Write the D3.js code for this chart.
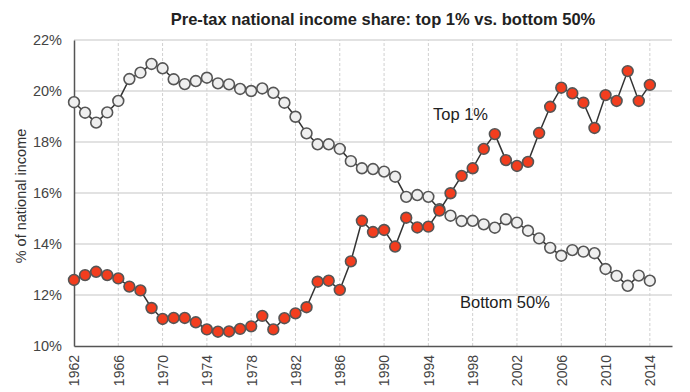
<!DOCTYPE html>
<html>
<head>
<meta charset="utf-8">
<script src="https://cdn.jsdelivr.net/npm/d3@7"></script>
<style>
    body { margin: 0; background: #fff; }
    svg text { font-family: "Liberation Sans", Arial, sans-serif; }
</style>
</head>
<body>
<svg id="chart" width="690" height="392"></svg>
<script>
// Data
const years = d3.range(1962, 2015);
const top1 = [
    12.59, 12.78, 12.91, 12.78, 12.65, 12.33, 12.18, 11.49, 11.06, 11.10,
    11.10, 10.93, 10.65, 10.56, 10.57, 10.67, 10.77, 11.18, 10.65, 11.09,
    11.28, 11.52, 12.52, 12.56, 12.20, 13.32, 14.91, 14.47, 14.55, 13.90,
    15.03, 14.65, 14.68, 15.31, 15.99, 16.67, 16.97, 17.73, 18.31, 17.29,
    17.06, 17.22, 18.35, 19.38, 20.13, 19.91, 19.54, 18.55, 19.84, 19.61,
    20.78, 19.61, 20.24
];
const bottom50 = [
    19.56, 19.15, 18.76, 19.16, 19.61, 20.47, 20.72, 21.06, 20.89, 20.46,
    20.27, 20.39, 20.52, 20.30, 20.26, 20.08, 20.00, 20.10, 19.93, 19.54,
    18.99, 18.34, 17.91, 17.91, 17.73, 17.25, 16.97, 16.94, 16.84, 16.64,
    15.85, 15.92, 15.85, 15.36, 15.11, 14.90, 14.91, 14.77, 14.64, 14.97,
    14.84, 14.52, 14.22, 13.85, 13.54, 13.76, 13.70, 13.64, 13.02, 12.75,
    12.36, 12.76, 12.56
];
const xTicks = d3.range(1962, 2015, 4);
const yTicks = [10, 12, 14, 16, 18, 20, 22];

let svg = d3.select("#chart");

let x = d3.scaleLinear().domain([1962, 2016]).range([74, 672]);
let y = d3.scaleLinear().domain([10, 22]).range([346, 40]);

// Grid lines
svg.append("g")
    .selectAll("line")
    .data(yTicks.slice(1))
    .enter().append("line")
    .attr("x1", x(1962)).attr("x2", x(2016))
    .attr("y1", d => y(d)).attr("y2", d => y(d))
    .attr("stroke", "#d9d9d9")
    .attr("stroke-width", 1.5);

svg.append("g")
    .selectAll("line")
    .data(xTicks.slice(1))
    .enter().append("line")
    .attr("x1", d => x(d)).attr("x2", d => x(d))
    .attr("y1", y(10)).attr("y2", y(22))
    .attr("stroke", "#d0d0d0")
    .attr("stroke-width", 1)
    .attr("stroke-dasharray", "3,2");

// Axes
let xAxis = svg.append("g")
    .attr("transform", "translate(0," + y(10) + ")")
    .call(d3.axisBottom(x).tickValues(xTicks).tickFormat(d3.format("d")).tickSize(0));
xAxis.select(".domain").attr("stroke", "#555").attr("stroke-width", 1.5);
xAxis.selectAll("text")
    .attr("font-size", 14)
    .attr("fill", "#444")
    .attr("transform", "rotate(-90)")
    .attr("text-anchor", "end")
    .attr("x", -9)
    .attr("y", 0)
    .attr("dy", "0.35em");

let yAxis = svg.append("g")
    .attr("transform", "translate(" + x(1962) + ",0)")
    .call(d3.axisLeft(y).tickValues(yTicks).tickFormat(d => d + "%").tickSize(0));
yAxis.select(".domain").attr("stroke", "#555").attr("stroke-width", 1.5);
yAxis.selectAll("text")
    .attr("font-size", 14.5)
    .attr("fill", "#444")
    .attr("x", -12);

// Axis title
svg.append("text")
    .attr("transform", "translate(26," + (y(16) + 3) + ") rotate(-90)")
    .attr("text-anchor", "middle")
    .attr("font-size", 14.5)
    .attr("fill", "#333")
    .text("% of national income");

// Chart title
svg.append("text")
    .attr("x", 383).attr("y", 25)
    .attr("text-anchor", "middle")
    .attr("font-size", 16.5)
    .attr("font-weight", "bold")
    .attr("fill", "#222")
    .text("Pre-tax national income share: top 1% vs. bottom 50%");

// Lines and markers
let line = d3.line()
    .x((d, i) => x(years[i]))
    .y(d => y(d));

function drawSeries(values, fill) {
    svg.append("path")
        .datum(values)
        .attr("d", line)
        .attr("fill", "none")
        .attr("stroke", "#333")
        .attr("stroke-width", 1.5);

    svg.append("g")
        .selectAll("circle")
        .data(values)
        .enter().append("circle")
        .attr("cx", (d, i) => x(years[i]))
        .attr("cy", d => y(d))
        .attr("r", 5.4)
        .attr("fill", fill)
        .attr("stroke", "#555")
        .attr("stroke-width", 1.6);
}

drawSeries(bottom50, "#efefef");
drawSeries(top1, "#f23d1e");

// Series labels
svg.append("text")
    .attr("x", 433).attr("y", 120)
    .attr("font-size", 16.5)
    .attr("fill", "#222")
    .text("Top 1%");

svg.append("text")
    .attr("x", 460).attr("y", 308)
    .attr("font-size", 16.5)
    .attr("fill", "#222")
    .text("Bottom 50%");
</script>
</body>
</html>
